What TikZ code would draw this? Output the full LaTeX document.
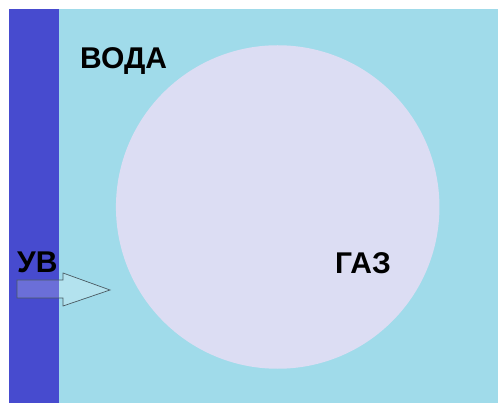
\documentclass[tikz,border=0pt]{standalone}
\usepackage{fontspec}
\setmainfont{Liberation Sans}
\definecolor{barblue}{HTML}{474BCF}
\definecolor{water}{HTML}{A0DBEA}
\definecolor{gasc}{HTML}{DCDDF3}
\definecolor{arrline}{HTML}{4A5A62}
\tikzset{
  lbl/.style={font=\bfseries\fontsize{30}{30}\selectfont, inner sep=0pt, anchor=base west, text=black},
}
\begin{document}
\begin{tikzpicture}[x=1pt,y=-1pt]
\useasboundingbox (0,0) rectangle (498,403);
\fill[white] (0,0) rectangle (498,403);
\fill[water] (9,9) rectangle (498,403);
\fill[barblue] (9,9) rectangle (59,403);
\node[circle, fill=gasc, minimum size=323.5pt, inner sep=0pt] (gas) at (277.7,207) {};
\node[lbl] (voda) at (80,68.5) {ВОДА};
\node[lbl] (gaz) at (335,274) {ГАЗ};
\node[lbl] (uv) at (17,273) {УВ};
\draw[arrline, line width=0.7pt, fill=white, fill opacity=0.2, line join=miter]
  (17,280) -- (63,280) -- (63,273) -- (110,290) -- (63,306) -- (63,298) -- (17,298) -- cycle;
\end{tikzpicture}
\end{document}
